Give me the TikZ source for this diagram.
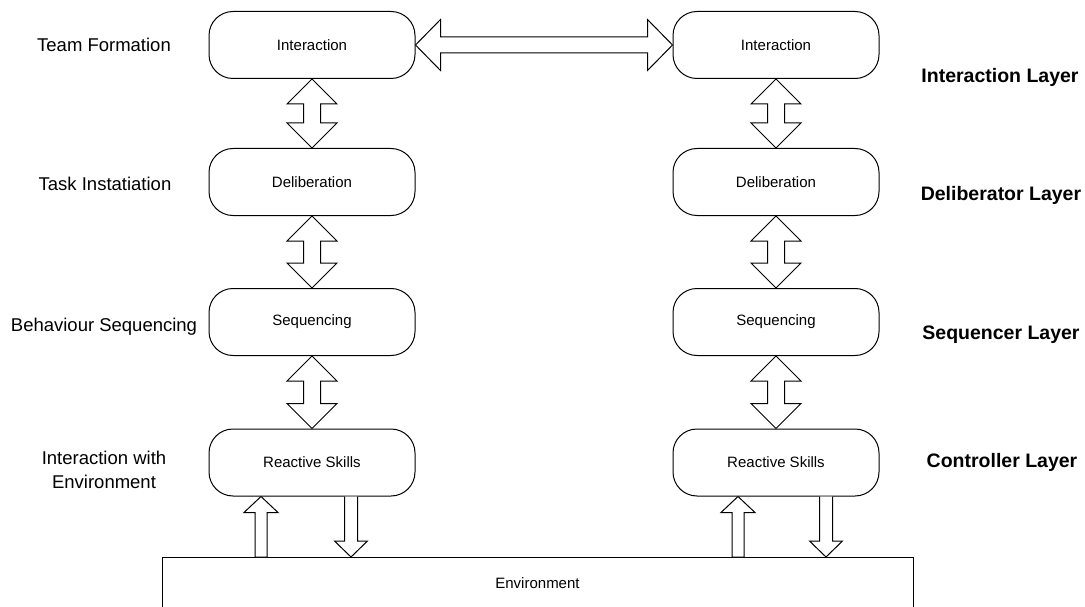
\documentclass[tikz,border=0pt]{standalone}
\usepackage{fontspec}
\setmainfont{Liberation Sans}
\usetikzlibrary{calc}
\newcommand\vdbl[2]{\draw[arr] (#1) -- ++(25,25) -- ++(-16.5,0) -- ($(#2)+(8.5,-25)$) -- ++(16.5,0) -- (#2) -- ++(-25,-25) -- ++(16.5,0) -- ($(#1)+(-8.5,25)$) -- ++(-16.5,0) -- cycle;}
\newcommand\uparr[2]{\draw[arr] (#1) -- ++(17,16) -- ++(-11,0) -- ($(#2)+(6,0)$) -- ++(-12,0) -- ($(#1)+(-6,16)$) -- ++(-11,0) -- cycle;}
\newcommand\dnarr[2]{\draw[arr] ($(#1)+(-6.5,0)$) -- ($(#2)+(-6.5,-16)$) -- ++(-10,0) -- (#2) -- ++(16.5,-16) -- ++(-10,0) -- ($(#1)+(6.5,0)$);}
\begin{document}
\begin{tikzpicture}[x=1pt,y=-1pt, line width=1pt,
 box/.style={draw, rounded corners=24pt, minimum width=206pt, minimum height=67pt, inner sep=0pt, font=\fontsize{15}{18}\selectfont},
 lab/.style={font=\fontsize{18.5}{23.5}\selectfont, align=center},
 layer/.style={font=\bfseries\fontsize{19.5}{23}\selectfont},
 arr/.style={draw, fill=white, line join=miter}]
\useasboundingbox (0,0) rectangle (1085,607);
% environment
\node[draw, minimum width=751pt, minimum height=52pt, inner sep=0pt, anchor=north, font=\fontsize{15}{18}\selectfont] (env) at (537.5,557) {Environment};
% boxes
\node[box] (i1) at (312,45) {Interaction};
\node[box] (d1) at (312,182) {Deliberation};
\node[box] (s1) at (312,322) {Sequencing};
\node[box] (r1) at (312,462.5) {Reactive Skills};
\node[box] (i2) at (776,45) {Interaction};
\node[box] (d2) at (776,182) {Deliberation};
\node[box] (s2) at (776,322) {Sequencing};
\node[box] (r2) at (776,462.5) {Reactive Skills};
% left labels
\node[lab] (tf) at (104,45) {Team Formation};
\node[lab] (ti) at (105,184) {Task Instatiation};
\node[lab] (bs) at (104,327) {Behaviour Sequencing};
\node[lab] (ie) at (104,470) {Interaction with\\Environment};
% right labels
\node[layer] (l1) at (1000,77) {Interaction Layer};
\node[layer] (l2) at (1001,195) {Deliberator Layer};
\node[layer] (l3) at (1001,335) {Sequencer Layer};
\node[layer] (l4) at (1002,462) {Controller Layer};
% vertical double arrows
\vdbl{i1.south}{d1.north}
\vdbl{d1.south}{s1.north}
\vdbl{s1.south}{r1.north}
\vdbl{i2.south}{d2.north}
\vdbl{d2.south}{s2.north}
\vdbl{s2.south}{r2.north}
% horizontal double arrow
\draw[arr] (i1.east) -- ++(25,-25.5) -- ++(0,17.5) -- ($(i2.west)+(-25,-8)$) -- ++(0,-17.5) -- (i2.west) -- ++(-25,25.5) -- ++(0,-17.5) -- ($(i1.east)+(25,8)$) -- ++(0,17.5) -- cycle;
% environment arrows
\coordinate (ua1) at ($(r1.south)+(-51,0)$);
\coordinate (ub1) at (ua1 |- env.north);
\coordinate (da1) at ($(r1.south)+(39,0)$);
\coordinate (db1) at (da1 |- env.north);
\coordinate (ua2) at ($(r2.south)+(-38,0)$);
\coordinate (ub2) at (ua2 |- env.north);
\coordinate (da2) at ($(r2.south)+(50,0)$);
\coordinate (db2) at (da2 |- env.north);
\uparr{ua1}{ub1}
\dnarr{da1}{db1}
\uparr{ua2}{ub2}
\dnarr{da2}{db2}
\end{tikzpicture}
\end{document}
